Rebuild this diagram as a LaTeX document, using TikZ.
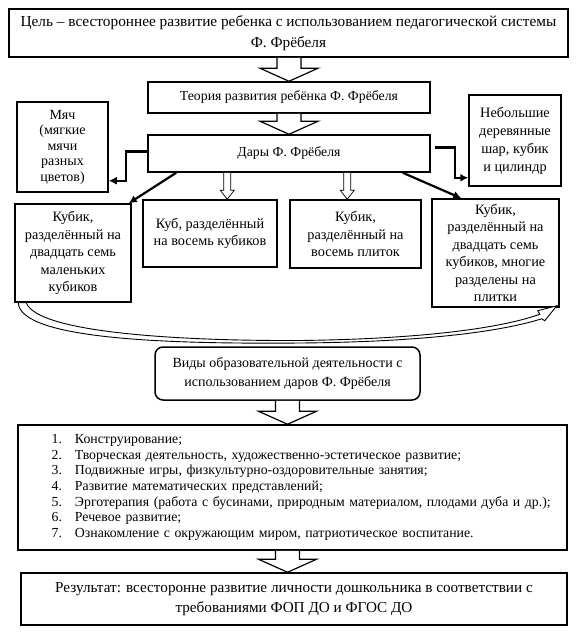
\documentclass[tikz,border=0pt]{standalone}
\usepackage{fontspec}
\setmainfont{Liberation Serif}
\usetikzlibrary{calc,arrows.meta}
\tikzset{
  box/.style={draw, line width=1.5pt, inner sep=0pt, align=center,
    font=\fontsize{14.3}{17.5}\selectfont},
  hollow/.style={draw, line width=1.2pt, fill=white, line join=miter},
  thinhollow/.style={draw, line width=0.7pt, fill=white, line join=miter},
  thickarrow/.style={line width=2.2pt, -{Latex[length=8pt,width=8pt]}},
  curveband/.style={draw, line width=0.9pt, fill=white, line join=miter},
}
% big hollow block arrow from point #1 down to point #2 (x of #1)
\newcommand\bigblock[2]{%
  \path[hollow] let \p1=(#1), \p2=(#2) in
    (\x1-12pt,\y1) -- (\x1-12pt,\y2+13pt) -- (\x1-29pt,\y2+13pt) -- (\x1,\y2)
    -- (\x1+29pt,\y2+13pt) -- (\x1+12pt,\y2+13pt) -- (\x1+12pt,\y1);}
\newcommand\smallblock[2]{%
  \path[thinhollow] let \p1=(#1), \p2=(#2) in
    (\x1-3.5pt,\y1) -- (\x1-3.5pt,\y2+9pt) -- (\x1-7pt,\y2+9pt) -- (\x1,\y2)
    -- (\x1+7pt,\y2+9pt) -- (\x1+3.5pt,\y2+9pt) -- (\x1+3.5pt,\y1);}
\newcommand\itm[1]{\makebox[32pt][r]{#1}\hspace{13pt}}
\begin{document}
\begin{tikzpicture}[x=1pt,y=-1pt]
\useasboundingbox (0,0) rectangle (579,633);

\node[box, minimum width=559pt, minimum height=48pt, font=\fontsize{15.3}{21}\selectfont] (goal) at (288.5,33)
  {Цель – всестороннее развитие ребенка с использованием педагогической системы\\Ф. Фрёбеля};
\node[box, minimum width=282pt, minimum height=31pt, font=\fontsize{13.8}{17}\selectfont] (theory) at (289,97.5)
  {Теория развития ребёнка Ф. Фрёбеля};
\node[box, minimum width=282pt, minimum height=37pt, font=\fontsize{13.8}{17}\selectfont] (gifts) at (289,153.5)
  {Дары Ф. Фрёбеля};
\node[box, minimum width=91pt, minimum height=90pt, font=\fontsize{14}{15.5}\selectfont] (ball) at (62.5,147)
  {Мяч\\(мягкие\\мячи\\разных\\цветов)};
\node[box, minimum width=92pt, minimum height=91pt, font=\fontsize{14.3}{18}\selectfont] (wood) at (515,140.5)
  {Небольшие\\деревянные\\шар, кубик\\и цилиндр};
\node[box, minimum width=116pt, minimum height=98pt] (c1) at (73,253)
  {Кубик,\\разделённый на\\двадцать семь\\маленьких\\кубиков};
\node[box, minimum width=134pt, minimum height=67pt] (c2) at (210,233.5)
  {Куб, разделённый\\на восемь кубиков};
\node[box, minimum width=131pt, minimum height=68pt] (c3) at (355.5,234)
  {Кубик,\\разделённый на\\восемь плиток};
\node[box, minimum width=127pt, minimum height=108pt] (c4) at (495.5,253)
  {Кубик,\\разделённый на\\двадцать семь\\кубиков, многие\\разделены на\\плитки};
\node[box, rounded corners=8pt, minimum width=265pt, minimum height=53pt, font=\fontsize{14}{19}\selectfont] (vid) at (287.5,373.5)
  {Виды образовательной деятельности с\\использованием даров Ф. Фрёбеля};
\node[box, minimum width=549pt, minimum height=125pt, align=left, text width=525pt,
  font=\fontsize{13.8}{15.7}\selectfont] (list) at (292.5,487.5)
  {\itm{1.}Конструирование;\\
   \itm{2.}Творческая деятельность, художественно-эстетическое развитие;\\
   \itm{3.}Подвижные игры, физкультурно-оздоровительные занятия;\\
   \itm{4.}Развитие математических представлений;\\
   \itm{5.}Эрготерапия (работа с бусинами, природным материалом, плодами дуба и др.);\\
   \itm{6.}Речевое развитие;\\
   \itm{7.}Ознакомление с окружающим миром, патриотическое воспитание.};
\node[box, minimum width=546pt, minimum height=52pt, font=\fontsize{15.2}{20}\selectfont] (res) at (294,599)
  {Результат: всесторонне развитие личности дошкольника в соответствии с\\требованиями ФОП ДО и ФГОС ДО};

% block arrows
\bigblock{theory.north |- goal.south}{theory.north}
\bigblock{theory.south}{gifts.north}
\bigblock{vid.south}{vid.south |- list.north}
\bigblock{vid.south |- list.south}{vid.south |- res.north}

% thin hollow arrows
\coordinate (s2) at ($(gifts.south west)+(80,0)$);
\coordinate (s3) at ($(gifts.south west)+(200,0)$);
\smallblock{s2}{s2 |- c2.north}
\smallblock{s3}{s3 |- c3.north}

% thick arrows
\draw[thickarrow] ($(gifts.west)+(0,-2)$) -- ++(-21,0) |- ($(ball.south east)+(0,-12)$);
\draw[thickarrow] ($(gifts.east)+(4,-6)$) -- ++(20,0) |- ($(wood.south west)+(0,-9)$);
\draw[thickarrow] ($(gifts.south west)+(29,0)$) -- ($(c1.north east)+(-3,0)$);
\draw[thickarrow] ($(gifts.south east)+(-28,0)$) -- ($(c4.north west)+(30,0)$);

% curved hollow arrow from c1 to c4
\path[curveband]
  ($(c1.south west)+(4,0)$) .. controls +(2,38) and (180,344) .. (300,343)
  .. controls (420,342) and (500,332) .. ($(c4.south east)+(-18,11)$)
  -- ($(c4.south east)+(-15,13)$) -- ($(c4.south east)+(-3,-2)$)
  -- ($(c4.south east)+(-22,3)$) -- ($(c4.south east)+(-20,6.5)$)
  .. controls (500,328.5) and (420,339) .. (300,340.5)
  .. controls (190,341) and (38,334) .. ($(c1.south west)+(12,0)$) -- cycle;
\end{tikzpicture}
\end{document}
